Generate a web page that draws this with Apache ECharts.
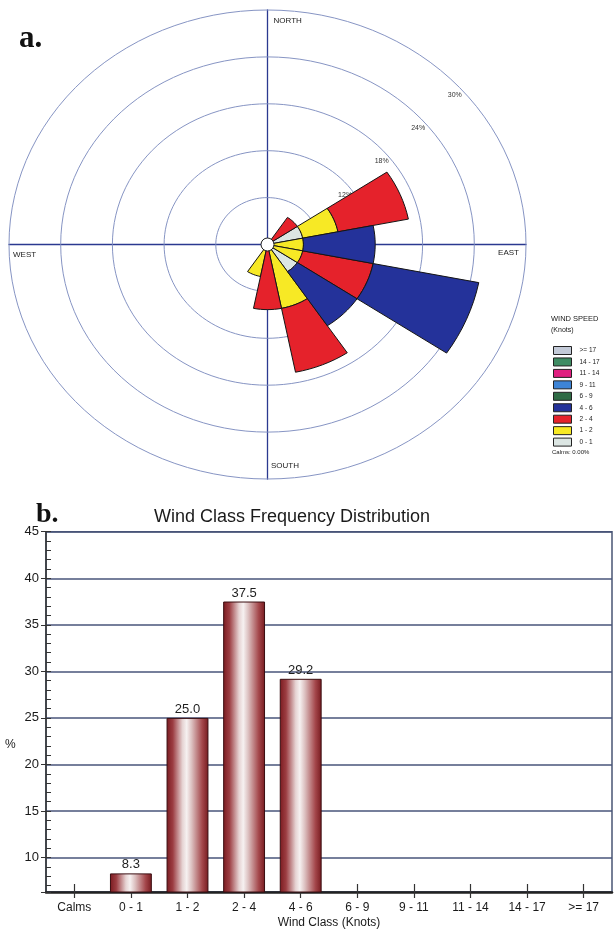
<!DOCTYPE html>
<html>
<head>
<meta charset="utf-8">
<script src="https://cdn.jsdelivr.net/npm/echarts@6/dist/echarts.min.js"></script>
<style>
  html, body { margin: 0; padding: 0; background: #ffffff; }
  #chart { width: 614px; height: 931px; }
</style>
</head>
<body>
<div id="chart"></div>
<script>
// 16-point compass, clockwise from north
const directions = ['N','NNE','NE','ENE','E','ESE','SE','SSE','S','SSW','SW','WSW','W','WNW','NW','NNW'];

// Share of all observations (%) blowing from each direction, per speed class (knots)
const speed0to1   = [0, 0, 0,    4.17, 0,    0,    4.17, 0,    0,    0,    0, 0, 0, 0, 0, 0];
const speed1to2   = [0, 0, 0,    4.17, 4.17, 4.17, 0,    8.33, 0,    4.17, 0, 0, 0, 0, 0, 0];
const speed2to4   = [0, 0, 4.17, 8.33, 0,    8.33, 0,    8.33, 8.33, 0,    0, 0, 0, 0, 0, 0];
const speed4to6   = [0, 0, 0,    0,    8.33, 12.5, 8.33, 0,    0,    0,    0, 0, 0, 0, 0, 0];
const speed6to9   = [0, 0, 0, 0, 0, 0, 0, 0, 0, 0, 0, 0, 0, 0, 0, 0];
const speed9to11  = [0, 0, 0, 0, 0, 0, 0, 0, 0, 0, 0, 0, 0, 0, 0, 0];
const speed11to14 = [0, 0, 0, 0, 0, 0, 0, 0, 0, 0, 0, 0, 0, 0, 0, 0];
const speed14to17 = [0, 0, 0, 0, 0, 0, 0, 0, 0, 0, 0, 0, 0, 0, 0, 0];
const speed17up   = [0, 0, 0, 0, 0, 0, 0, 0, 0, 0, 0, 0, 0, 0, 0, 0];

const speedClassNames = ['0 - 1', '1 - 2', '2 - 4', '4 - 6', '6 - 9', '9 - 11', '11 - 14', '14 - 17', '>= 17'];
const ringPercents = [6, 12, 18, 24, 30];
const compassNames = ['NORTH', 'EAST', 'SOUTH', 'WEST'];
const calmsPercent = 0.00;

// Wind class frequency distribution (%)
const windClasses = ['Calms', '0 - 1', '1 - 2', '2 - 4', '4 - 6', '6 - 9', '9 - 11', '11 - 14', '14 - 17', '>= 17'];
const classFrequency = [0, 8.3, 25.0, 37.5, 29.2, 0, 0, 0, 0, 0];
const yTickLabels = [10, 15, 20, 25, 30, 35, 40, 45];

// ---------------------------------------------------------------------------
const SANS = '"Liberation Sans", Arial, sans-serif';
const SERIF = '"Liberation Serif", "Times New Roman", serif';

const speedTable = [speed0to1, speed1to2, speed2to4, speed4to6, speed6to9,
                    speed9to11, speed11to14, speed14to17, speed17up];
const speedColors = ['#dce6e3', '#f7e925', '#e5222b', '#24329a', '#2f6b45',
                     '#3d84d6', '#e01f80', '#3e8c63', '#c3cad8'];
const rMax = ringPercents[ringPercents.length - 1];

// point on the rose at a given radius (%) and compass bearing (deg)
function rosePoint(api, r, bearing) {
  const a = bearing * Math.PI / 180;
  return api.coord([r * Math.sin(a), r * Math.cos(a)]);
}

function petalItem(params, api) {
  const dir = api.value(0), base = api.value(1), len = api.value(2);
  const step = 360 / directions.length;
  const a0 = dir * step - step / 2, a1 = dir * step + step / 2;
  const n = 8, pts = [];
  for (let i = 0; i <= n; i++) pts.push(rosePoint(api, base + len, a0 + (a1 - a0) * i / n));
  for (let i = n; i >= 0; i--) pts.push(rosePoint(api, base, a0 + (a1 - a0) * i / n));
  return {
    type: 'polygon',
    shape: { points: pts },
    style: { fill: api.visual('color'), stroke: '#151515', lineWidth: 1 }
  };
}

// stacked petals: each class starts where the slower classes end
const petalSeries = speedTable.map((vals, k) => {
  const data = [];
  vals.forEach((v, d) => {
    if (v > 0) {
      let base = 0;
      for (let j = 0; j < k; j++) base += speedTable[j][d];
      data.push([d, base, v]);
    }
  });
  return {
    type: 'custom',
    name: speedClassNames[k],
    xAxisIndex: 0, yAxisIndex: 0,
    z: 3,
    itemStyle: { color: speedColors[k] },
    renderItem: petalItem,
    data: data
  };
});

const ringSeries = {
  type: 'custom',
  name: 'rings',
  xAxisIndex: 0, yAxisIndex: 0,
  z: 1,
  silent: true,
  data: ringPercents.map(r => [r, 0]),
  renderItem(params, api) {
    const r = api.value(0);
    const pts = [];
    for (let b = 0; b <= 360; b += 3) pts.push(rosePoint(api, r, b));
    const lab = rosePoint(api, r, 45);
    return {
      type: 'group',
      children: [
        { type: 'polyline', shape: { points: pts },
          style: { stroke: '#8795c4', lineWidth: 1, fill: null } },
        { type: 'text', x: lab[0] + 4.5, y: lab[1] + 16.5,
          style: { text: r + '%', fontSize: 7, fontFamily: SANS, fill: '#333',
                   align: 'center', verticalAlign: 'middle' } }
      ]
    };
  }
};

const compassPlace = [
  { dx: 6,   dy: 10.5,  align: 'left' },
  { dx: -7,  dy: 8.5,   align: 'right' },
  { dx: 3.5, dy: -13.5, align: 'left' },
  { dx: 4,   dy: 10,    align: 'left' }
];
const compassSeries = {
  type: 'custom',
  name: 'compass',
  xAxisIndex: 0, yAxisIndex: 0,
  z: 2,
  silent: true,
  data: compassNames.map((name, i) => [i * 90, rMax]),
  renderItem(params, api) {
    const p = rosePoint(api, api.value(1), api.value(0));
    const s = compassPlace[params.dataIndex];
    return {
      type: 'text', x: p[0] + s.dx, y: p[1] + s.dy,
      style: { text: compassNames[params.dataIndex], fontSize: 8, fontFamily: SANS,
               fill: '#1a1a1a', align: s.align, verticalAlign: 'middle' }
    };
  }
};

const calmsSeries = {
  type: 'custom',
  name: 'calms',
  xAxisIndex: 0, yAxisIndex: 0,
  z: 4,
  silent: true,
  data: [[0, 0]],
  renderItem(params, api) {
    const c = api.coord([0, 0]);
    return { type: 'circle', shape: { cx: c[0], cy: c[1], r: 6.5 },
             style: { fill: '#ffffff', stroke: '#222', lineWidth: 1 } };
  }
};

const barSeries = {
  type: 'bar',
  name: 'Wind Class Frequency',
  xAxisIndex: 1, yAxisIndex: 1,
  barWidth: '74%',
  data: classFrequency.map(v => (v > 0 ? v : null)),
  itemStyle: {
    borderColor: '#3a0d10',
    borderWidth: 1,
    color: {
      type: 'linear', x: 0, y: 0, x2: 1, y2: 0,
      colorStops: [
        { offset: 0,    color: '#7a1a1f' },
        { offset: 0.15, color: '#9c3d42' },
        { offset: 0.38, color: '#e6d3d3' },
        { offset: 0.48, color: '#f6f1f1' },
        { offset: 0.6,  color: '#dcc0c0' },
        { offset: 0.85, color: '#a4474b' },
        { offset: 1,    color: '#761a1e' }
      ]
    }
  },
  label: {
    show: true, position: 'top', distance: 2,
    fontSize: 13, fontFamily: SANS, color: '#1e1e1e',
    formatter: p => p.value.toFixed(1)
  }
};

const option = {
  backgroundColor: '#ffffff',
  animation: false,
  textStyle: { fontFamily: SANS },
  title: [
    { text: 'a.', left: 19, top: 23, padding: 0,
      textStyle: { fontFamily: SERIF, fontWeight: 'bold', fontSize: 31, color: '#111' } },
    { text: 'b.', left: 36, top: 501, padding: 0,
      textStyle: { fontFamily: SERIF, fontWeight: 'bold', fontSize: 28, color: '#111' } },
    { text: 'Wind Class Frequency Distribution', left: 292, top: 508, padding: 0, textAlign: 'center',
      textStyle: { fontFamily: SANS, fontWeight: 'normal', fontSize: 18, color: '#1a1a1a' } },
    { text: 'WIND SPEED', subtext: '(Knots)', left: 551, top: 315, padding: 0, itemGap: 4,
      textStyle: { fontFamily: SANS, fontWeight: 'normal', fontSize: 7.5, color: '#1a1a1a' },
      subtextStyle: { fontFamily: SANS, fontSize: 7, color: '#1a1a1a' } },
    { text: 'Calms: ' + calmsPercent.toFixed(2) + '%', left: 552, top: 449, padding: 0,
      textStyle: { fontFamily: SANS, fontWeight: 'normal', fontSize: 6, color: '#1a1a1a' } },
    { text: '%', left: 5, top: 739, padding: 0,
      textStyle: { fontFamily: SANS, fontWeight: 'normal', fontSize: 12, color: '#1a1a1a' } }
  ],
  legend: {
    orient: 'vertical',
    left: 553, top: 346,
    padding: 0,
    itemWidth: 18, itemHeight: 8, itemGap: 2.45,
    icon: 'rect',
    selectedMode: false,
    itemStyle: { borderColor: '#222', borderWidth: 1 },
    textStyle: { fontFamily: SANS, fontSize: 6.5, color: '#1a1a1a', padding: [0, 0, 0, 3] },
    data: speedClassNames.slice().reverse()
  },
  grid: [
    { left: 9, top: 10, width: 517, height: 469, show: false },
    { left: 46, right: 2, top: 531.7, bottom: 39, show: true,
      borderColor: '#4a5674', borderWidth: 1.5, backgroundColor: 'transparent' }
  ],
  xAxis: [
    { gridIndex: 0, type: 'value', min: -rMax, max: rMax,
      axisLine: { show: true, onZero: true, lineStyle: { color: '#2b3990', width: 1.3 } },
      axisTick: { show: false }, axisLabel: { show: false }, splitLine: { show: false } },
    { gridIndex: 1, type: 'category', data: windClasses, position: 'bottom',
      axisLine: { show: true, lineStyle: { color: '#222', width: 2.5 } },
      axisTick: { show: true, alignWithLabel: true, length: 6, lineStyle: { color: '#333', width: 1.2 } },
      axisLabel: { fontSize: 12, fontFamily: SANS, color: '#1a1a1a', margin: 10 },
      name: 'Wind Class (Knots)', nameLocation: 'middle', nameGap: 25,
      nameTextStyle: { fontSize: 12, fontFamily: SANS, color: '#1a1a1a' } },
    { gridIndex: 1, type: 'category', data: windClasses, position: 'bottom', offset: 0,
      axisLine: { show: false },
      axisTick: { show: true, inside: true, alignWithLabel: true, length: 8, lineStyle: { color: '#333', width: 1.2 } },
      axisLabel: { show: false } }
  ],
  yAxis: [
    { gridIndex: 0, type: 'value', min: -rMax, max: rMax,
      axisLine: { show: true, onZero: true, lineStyle: { color: '#2b3990', width: 1.3 } },
      axisTick: { show: false }, axisLabel: { show: false }, splitLine: { show: false } },
    { gridIndex: 1, type: 'value', min: 6.3, max: 45, splitNumber: 8,
      axisLine: { show: true, lineStyle: { color: '#333', width: 1.5 } },
      axisTick: { show: true, length: 5, lineStyle: { color: '#333' } },
      axisLabel: { fontSize: 13, fontFamily: SANS, color: '#1a1a1a', margin: 7,
                   formatter: v => (yTickLabels.indexOf(Math.round(v * 10) / 10) >= 0 ? String(v) : '') },
      splitLine: { show: true, lineStyle: { color: '#48557a', width: 1.5 } } },
    { gridIndex: 1, type: 'value', min: 6.3, max: 45, splitNumber: 39, position: 'left', offset: 0,
      axisLine: { show: false },
      axisTick: { show: true, inside: true, length: 5, lineStyle: { color: '#333' } },
      axisLabel: { show: false }, splitLine: { show: false } }
  ],
  series: [ringSeries, compassSeries].concat(petalSeries, [calmsSeries, barSeries])
};

const chart = echarts.init(document.getElementById('chart'), null, { renderer: 'canvas' });
chart.setOption(option);
</script>
</body>
</html>
